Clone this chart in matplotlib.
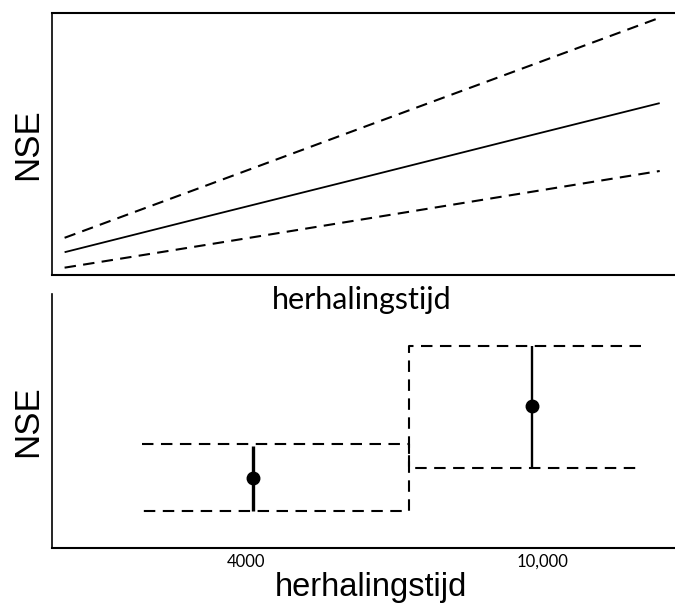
import matplotlib
matplotlib.use("Agg")
import matplotlib.pyplot as plt

# ---- data ----
# top panel: fitted NSE line with upper/lower bounds (x on arbitrary 0..1 scale)
top_x = [0.02, 0.25, 0.5, 0.75, 0.965]
top_mid = [0.087, 0.226, 0.376, 0.527, 0.656]
top_upper = [0.142, 0.346, 0.569, 0.791, 0.982]
top_lower = [0.028, 0.117, 0.215, 0.313, 0.397]

# bottom panel: two return-period classes
box_left_x = [1900, 7300]
box_left_lo = 0.146
box_left_hi = 0.409
box_right_x = [7300, 12000]
box_right_lo = 0.315
box_right_hi = 0.795

pt_x = [4140, 9800]
pt_y = [0.274, 0.559]
pt_lo = [0.146, 0.316]
pt_hi = [0.402, 0.795]
pt_lw = [2.4, 1.7]

tick_vals = [4000, 10000]
tick_labels = ["4000", "10,000"]

W, H = 675, 604
fig = plt.figure(figsize=(W / 100, H / 100), dpi=100)

sans = ["Liberation Sans", "DejaVu Sans"]
hum = ["Lato", "DejaVu Sans"]

# ---- top axes ----
ax1 = fig.add_axes([52 / W, 1 - 275 / H, 1 - 52 / W + 0.01, 262 / H])
ax1.set_zorder(2)
ax1.plot(top_x, top_mid, color="black", lw=1.3, solid_capstyle="butt")
ax1.plot(top_x, top_upper, color="black", lw=1.5, dashes=(5.5, 3.5))
ax1.plot(top_x, top_lower, color="black", lw=1.5, dashes=(5.5, 3.5))
ax1.set_xlim(0, 1)
ax1.set_ylim(0, 1)
ax1.set_xticks([])
ax1.set_yticks([])
ax1.spines["right"].set_visible(False)
for s in ["left", "top", "bottom"]:
    ax1.spines[s].set_linewidth(1.5)
ax1.spines["left"].set_linewidth(1.2)
ax1.set_xlabel("herhalingstijd", family=hum, fontsize=22)
ax1.xaxis.label.set_va("baseline")
ax1.xaxis.set_label_coords(0.5 - 0.0075, (275 - 309) / 262)
ax1.set_ylabel("NSE", family=sans, fontsize=25)
ax1.yaxis.label.set_va("center")
ax1.yaxis.set_label_coords((28 - 52) / 629, 0.5)

# ---- bottom axes ----
ax2 = fig.add_axes([52 / W, 1 - 548 / H, 1 - 52 / W + 0.01, 254 / H])
ax2.patch.set_visible(False)
ax2.set_zorder(1)
dash = (5.5, 3.6)
# left box: top, right edge, bottom
ax2.plot([box_left_x[0], box_left_x[1], box_left_x[1], box_left_x[0]],
         [box_left_hi, box_left_hi, box_left_lo, box_left_lo],
         color="black", lw=1.5, dashes=dash)
# right box: top, left edge, bottom
ax2.plot([box_right_x[1], box_right_x[0], box_right_x[0], box_right_x[1]],
         [box_right_hi, box_right_hi, box_right_lo, box_right_lo],
         color="black", lw=1.5, dashes=dash)
for x, y, lo, hi, lw in zip(pt_x, pt_y, pt_lo, pt_hi, pt_lw):
    ax2.plot([x, x], [lo, hi], color="black", lw=lw, solid_capstyle="butt")
    ax2.plot([x], [y], "o", color="black", ms=9)

ax2.set_xlim(75, 12681 + 140)
ax2.set_ylim(0, 1)
ax2.set_yticks([])
ax2.set_xticks(tick_vals)
ax2.set_xticklabels(tick_labels, family=hum, fontsize=12)
ax2.tick_params(axis="x", length=0, pad=4)
ax2.spines["right"].set_visible(False)
ax2.spines["top"].set_visible(False)
ax2.spines["left"].set_linewidth(1.2)
ax2.spines["bottom"].set_linewidth(1.5)
ax2.set_xlabel("herhalingstijd", family=sans, fontsize=23.5)
ax2.xaxis.label.set_va("baseline")
ax2.xaxis.set_label_coords((371 - 52) / 629, (548 - 596) / 254)
ax2.set_ylabel("NSE", family=sans, fontsize=25)
ax2.yaxis.label.set_va("center")
ax2.yaxis.set_label_coords((28 - 52) / 629, 0.5)

fig.savefig("out.png", dpi=100)
